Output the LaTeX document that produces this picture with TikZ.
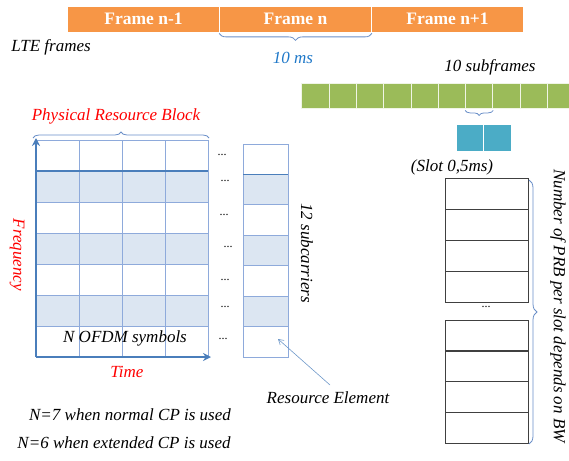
\documentclass[tikz,border=0pt]{standalone}
\usepackage{fontspec}
\setmainfont{Liberation Serif}
\usetikzlibrary{decorations.pathreplacing,arrows.meta}
\definecolor{orangeF}{HTML}{F79646}
\definecolor{greenF}{HTML}{9BBB59}
\definecolor{tealF}{HTML}{4BACC6}
\definecolor{gridline}{HTML}{8EAADB}
\definecolor{gridshade}{HTML}{DCE6F2}
\definecolor{axisblue}{HTML}{4A7EBB}
\definecolor{bracec}{HTML}{6A8FC8}
\definecolor{msblue}{HTML}{1F78C8}
\tikzset{
  lbl/.style={font=\fontsize{17}{19}\selectfont\itshape, inner sep=0pt},
  redlbl/.style={lbl, text=red},
  framebox/.style={fill=orangeF, draw=white, line width=0.8pt, minimum width=152pt, minimum height=26pt, inner sep=0pt, text=white, font=\fontsize{17.5}{19}\selectfont\bfseries},
  subbox/.style={fill=greenF, draw=white!85!greenF, line width=0.8pt, minimum width=27.3pt, minimum height=25pt, inner sep=0pt},
  slotbox/.style={fill=tealF, draw=white, line width=0.8pt, minimum width=27.5pt, minimum height=27pt, inner sep=0pt},
  brc/.style={draw=bracec, line width=0.8pt, decorate, decoration={brace, amplitude=7pt}},
  dots/.style={font=\fontsize{12}{14}\selectfont, inner sep=0pt},
  prb/.style={draw=black!75, line width=0.8pt, minimum width=83pt, minimum height=31pt, inner sep=0pt},
  axis/.style={draw=axisblue, line width=2.4pt, -{Stealth[length=8pt,width=8pt]}},
}
\begin{document}
\begin{tikzpicture}[x=1pt,y=-1pt]
\useasboundingbox (0,0) rectangle (569,460);
% frames
\node[framebox] (f1) at (143.5,19) {Frame n-1};
\node[framebox] (f2) at (295.5,19) {Frame n};
\node[framebox] (f3) at (447.5,19) {Frame n+1};
\draw[brc, decoration={mirror}] ([yshift=-1pt]f2.south west) -- ([yshift=-1pt]f2.south east) coordinate[midway] (bm);
\node[lbl, text=msblue] (tms) at (293,58) {10 ms};
\node[lbl] (lte) at (51,47) {LTE frames};
\node[lbl] (tsub) at (490,67) {10 subframes};
% subframes
\begin{scope}
\clip (0,0) rectangle (569,460);
\foreach \i in {0,...,9} {
  \node[subbox] (s\i) at ({301.7+27.3*\i+13.65},95.5) {};
}
\end{scope}
\draw[brc, decoration={mirror, amplitude=5pt}] ([yshift=-2pt]s6.south west) -- ([yshift=-2pt]s6.south east);
\node[slotbox] (sl1) at (469.75,137.5) {};
\node[slotbox] (sl2) at (497.25,137.5) {};
\node[lbl] (tslot) at (452,167) {(Slot 0,5ms)};
% left grid
\foreach \r in {0,...,6} {
  \pgfmathsetmacro{\yy}{140+31*\r}
  \pgfmathtruncatemacro{\sh}{mod(\r,2)}
  \foreach \c in {0,...,3} {
    \pgfmathsetmacro{\xx}{36+43*\c}
    \ifnum\sh=1
      \fill[gridshade] (\xx,\yy) rectangle ++(43,31);
    \fi
    \draw[gridline, line width=0.8pt] (\xx,\yy) rectangle ++(43,31);
  }
}
\draw[axisblue, line width=1.2pt] (36,171) -- (208,171);
\draw[brc, decoration={amplitude=6pt}] (33,138) -- (209,138);
\node[redlbl] (tprb) at (116,116) {Physical Resource Block};
\coordinate (origin) at (36,357);
\coordinate (ftop) at (36,138);
\coordinate (tend) at (211,357);
\draw[axis] (origin) -- (ftop);
\draw[axis] (origin) -- (tend);
\node[redlbl, rotate=-90] (tfreq) at (17,255) {Frequency};
\node[redlbl] (ttime) at (127,372) {Time};
\node[lbl] (tofdm) at (125,338) {N OFDM symbols};
% dots next to grid
\foreach \x/\y [count=\k] in {222/155,225/181,224/215,228/247,225/280,225/307,223/339} {
  \node[dots] (d\k) at (\x,\y) {...};
}
% resource element column
\foreach \r in {0,...,6} {
  \pgfmathsetmacro{\yy}{144+30.43*\r}
  \pgfmathtruncatemacro{\sh}{mod(\r,2)}
  \ifnum\sh=1
    \fill[gridshade] (243,\yy) rectangle ++(45,30.43);
  \fi
  \draw[gridline, line width=0.8pt] (243,\yy) rectangle ++(45,30.43);
}
\draw[axisblue, line width=1.2pt] (243,174.43) -- (288,174.43);
\coordinate (re) at (278,339);
\node[lbl, rotate=-90] (t12) at (307,253) {12 subcarriers};
\node[lbl] (tre) at (328,398) {Resource Element};
\draw[axisblue!80, line width=0.6pt, -{Straight Barb[length=5pt,width=6pt]}] (330,385) -- (re);
\node[lbl] (tn7) at (130,415) {N=7 when normal CP is used};
\node[lbl] (tn6) at (124,443) {N=6 when extended CP is used};
% PRB column
\foreach \i in {0,...,3} {
  \node[prb] (p\i) at (486.5,{193.5+31*\i}) {};
}
\node[dots] (pd) at (486,307) {...};
\foreach \i in {0,...,3} {
  \node[prb] (q\i) at (486.5,{335.5+30.75*\i}) {};
}
\draw[brc, decoration={amplitude=8pt}] (529,180) -- (529,444);
\node[lbl, rotate=-90] (tnum) at (558,306) {Number of PRB per slot depends on BW};
\end{tikzpicture}
\end{document}
